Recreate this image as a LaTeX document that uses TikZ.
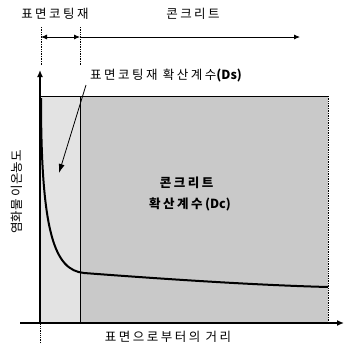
\documentclass[tikz,border=0pt]{standalone}
\usepackage{fontspec}
\setmainfont{Noto Sans CJK KR}
\newfontfamily\kr[LetterSpace=20]{Noto Sans CJK KR}
\newfontfamily\krt{Noto Sans CJK KR}
\usetikzlibrary{arrows.meta}
\tikzset{
  lbl/.style={inner sep=0pt, font=\kr\fontsize{12.5}{14}\selectfont},
  axis/.style={line width=1.3pt, -{Latex[length=7pt,width=6pt]}},
  dimline/.style={line width=0.7pt, densely dotted},
  dimarrow/.style={line width=0.8pt, -{Latex[length=6pt,width=5pt]}},
  curve/.style={line width=2pt},
}
\begin{document}
\begin{tikzpicture}[x=1pt,y=-1pt]
\useasboundingbox (0,0) rectangle (344,349);
% shaded regions
\fill[black!11] (40,96) rectangle (80,323);
\fill[black!21] (80,96) rectangle (328,323);
\draw[line width=1pt] (40,96) -- (328,96);
\draw[line width=0.7pt, densely dotted] (328,96) -- (328,323);
\draw[line width=0.8pt] (80,96) -- (80,323);
% curve
\draw[curve] (41,98) .. controls (41,235) and (55,270) .. (84,273)
  .. controls (150,278) and (250,285) .. (328,287);
% axes
\coordinate (yb) at (40,343);
\coordinate (yo) at (40,323);
\coordinate (yt) at (40,70);
\coordinate (xl) at (20,323);
\coordinate (xr) at (344,323);
\draw[line width=0.8pt, densely dotted] (yb) -- (yo);
\draw[axis] (yo) -- (yt);
\draw[axis] (xl) -- (xr);
% dimension lines
\coordinate (d1t) at (41,27);
\coordinate (d1b) at (41,65);
\coordinate (d2t) at (80,27);
\coordinate (d2b) at (80,65);
\coordinate (a1) at (41,37);
\coordinate (a2) at (80,37);
\coordinate (a3) at (300,37);
\draw[dimline] (d1t) -- (d1b);
\draw[dimline] (d2t) -- (d2b);
\draw[dimarrow, {Latex[length=6pt,width=5pt]}-{Latex[length=6pt,width=5pt]}] (a1) -- (a2);
\draw[dimarrow] (a2) -- (a3);
% labels
\node[lbl] (tc) at (55,14) {표면코팅재};
\node[lbl] (tk) at (193,14) {콘크리트};
\node[lbl] (ds) at (166,76) {표면코팅재 확산계수{\krt\bfseries(Ds)}};
\node[lbl] (dc1) at (188,183) {\textbf{콘크리트}};
\node[lbl] (dc2) at (190,204) {\textbf{확산계수}{\krt\bfseries(Dc)}};
\node[lbl] (xlab) at (168,337) {표면으로부터의 거리};
\node[lbl, font=\krt\fontsize{12.5}{14}\selectfont, rotate=90] (ylab) at (17,192) {염화물 이온농도};
% leader
\coordinate (ls) at (86,85);
\coordinate (le) at (59,173);
\draw[line width=0.8pt, -{Latex[length=9pt,width=6pt]}] (ls) -- (le);
\end{tikzpicture}
\end{document}
